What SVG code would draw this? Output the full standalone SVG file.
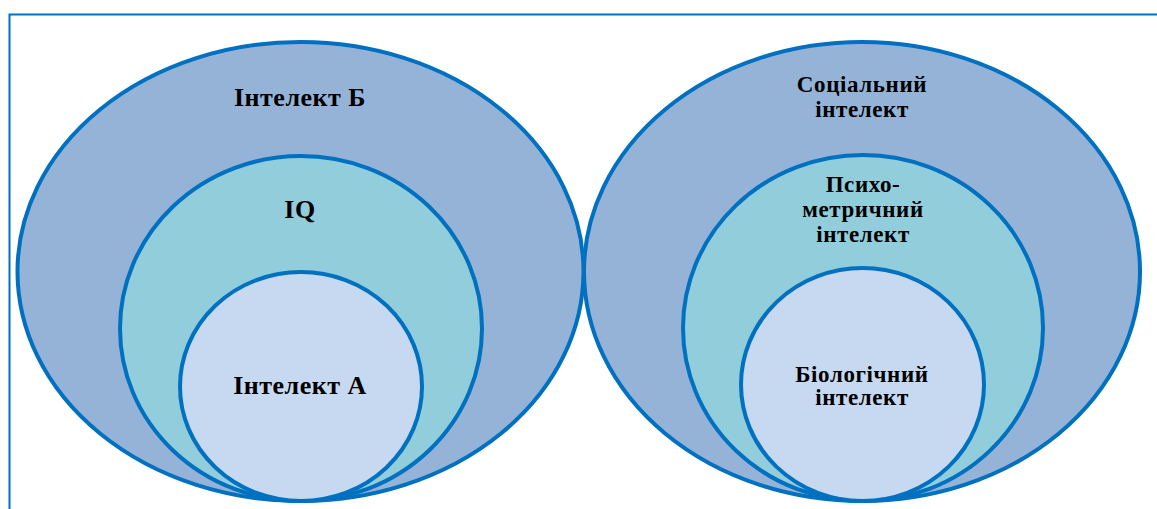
<svg xmlns="http://www.w3.org/2000/svg" width="1157" height="509" viewBox="0 0 1157 509">
<style>
.c{stroke:#0070C0;stroke-width:4}
.o{fill:#95B3D7}
.m{fill:#92CDDC}
.i{fill:#C6D9F1}
.t{font-family:"Liberation Serif","DejaVu Serif",serif;font-weight:bold;fill:#000;text-anchor:middle}
.l{font-size:26px;letter-spacing:0.5px}
.s{font-size:23px;letter-spacing:0.6px}
</style>
<rect width="1157" height="509" fill="#fff"/>
<path d="M9.5,509 V14.5 H1157" fill="none" stroke="#0070C0" stroke-width="2"/>
<g id="left">
<g id="intellect-b"><ellipse class="c o" cx="300.5" cy="271.5" rx="283" ry="229.5"/><text class="t l" x="300" y="106">Інтелект Б</text></g>
<g id="iq"><ellipse class="c m" cx="301" cy="328.5" rx="181" ry="172.5"/><text class="t l" x="300" y="218">IQ</text></g>
<g id="intellect-a"><ellipse class="c i" cx="301" cy="386.5" rx="121" ry="114.5"/><text class="t l" x="300" y="394">Інтелект А</text></g>
</g>
<g id="right">
<g id="social"><ellipse class="c o" cx="862" cy="271.5" rx="278" ry="229.5"/><text class="t s" x="862" y="92">Соціальний</text><text class="t s" x="862" y="117">інтелект</text></g>
<g id="psychometric"><ellipse class="c m" cx="863" cy="328" rx="180" ry="173"/><text class="t s" x="863" y="192">Психо-</text><text class="t s" x="863" y="217">метричний</text><text class="t s" x="863" y="242">інтелект</text></g>
<g id="biological"><ellipse class="c i" cx="862.5" cy="384.5" rx="121.5" ry="116.5"/><text class="t s" x="862" y="382">Біологічний</text><text class="t s" x="862" y="405">інтелект</text></g>
</g>
<g id="connectors"/>
</svg>
